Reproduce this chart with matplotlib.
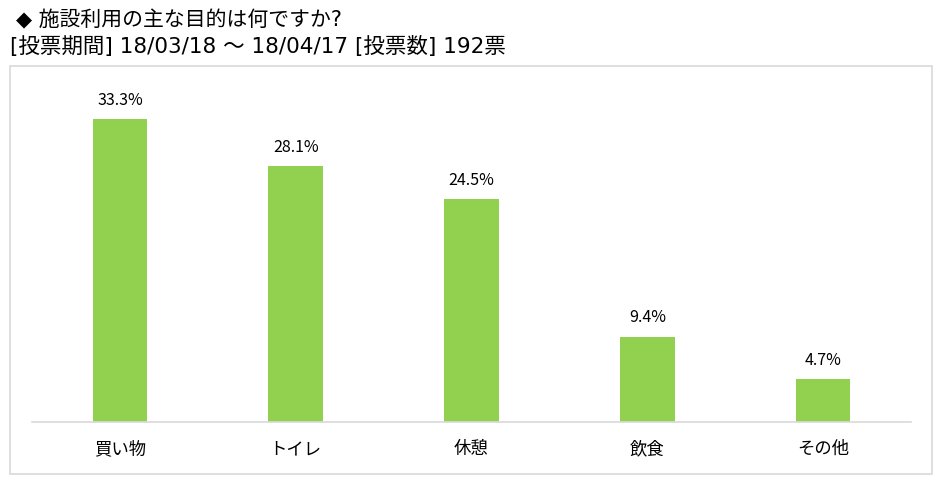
import matplotlib.pyplot as plt
from matplotlib.patches import Rectangle

plt.rcParams['font.family'] = ['Noto Sans CJK JP', 'DejaVu Sans']

categories = ['買い物', 'トイレ', '休憩', '飲食', 'その他']
values = [33.3, 28.1, 24.5, 9.4, 4.7]

W, H = 940, 479
fig = plt.figure(figsize=(W / 100, H / 100), dpi=100)

# chart frame
fig.patches.append(Rectangle((10 / W, 1 - 474 / H), 922 / W, 408 / H,
                             transform=fig.transFigure, fill=False,
                             edgecolor='#d9d9d9', linewidth=1.2))

ax = fig.add_axes([32 / W, 1 - 422 / H, 879 / W, 342 / H])
x = range(len(categories))
ax.bar(x, values, width=0.31, color='#92d050')
for i, v in zip(x, values):
    ax.text(i, v + 1.1, f'{v:.1f}%', ha='center', va='bottom', fontsize=11.5)

ax.set_xlim(-0.5, len(categories) - 0.5)
ax.set_ylim(0, 37.6)
ax.set_xticks(list(x))
ax.set_xticklabels(categories, fontsize=12.5)
ax.tick_params(axis='x', length=0, pad=13)
ax.set_yticks([])
for s in ['top', 'right', 'left']:
    ax.spines[s].set_visible(False)
ax.spines['bottom'].set_color('#d9d9d9')
ax.spines['bottom'].set_linewidth(1.2)

title_font = ['DejaVu Sans', 'Noto Sans CJK JP']
fig.text(16 / W, 1 - 20 / H, '◆ 施設利用の主な目的は何ですか?', fontsize=15,
         va='center', ha='left', family=title_font)
fig.text(10 / W, 1 - 47 / H, '[投票期間] 18/03/18 ～ 18/04/17 [投票数] 192票',
         fontsize=15.5, va='center', ha='left', family=title_font)

fig.savefig('out.png', dpi=100)
